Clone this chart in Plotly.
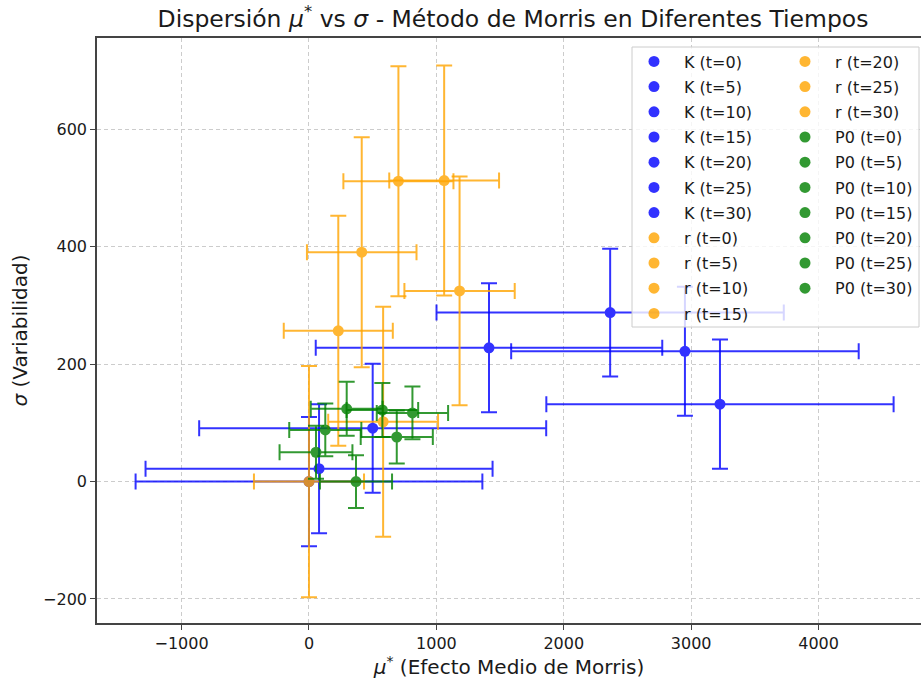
import plotly.graph_objects as go

times = [0, 5, 10, 15, 20, 25, 30]

K_mu = [0, 79, 500, 1413, 2364, 2951, 3226]
K_sigma = [0, 22, 91, 228, 288, 222, 132]
K_mu_err = [1361, 1362, 1362, 1360, 1363, 1364, 1363]
K_sigma_err = [110, 110, 110, 110, 109, 110, 110]

r_mu = [0, 582, 230, 414, 702, 1061, 1182]
r_sigma = [0, 102, 257, 391, 512, 513, 325]
r_mu_err = [432, 431, 428, 430, 432, 431, 433]
r_sigma_err = [197, 196, 196, 196, 196, 196, 195]

P0_mu = [369, 55, 128, 296, 576, 689, 812]
P0_sigma = [0, 50, 88, 124, 122, 76, 117]
P0_mu_err = [283, 286, 283, 282, 281, 283, 280]
P0_sigma_err = [45, 45, 45, 46, 46, 45, 45]

params = [
    ("K", "#0000FF", K_mu, K_sigma, K_mu_err, K_sigma_err),
    ("r", "#FFA500", r_mu, r_sigma, r_mu_err, r_sigma_err),
    ("P0", "#008000", P0_mu, P0_sigma, P0_mu_err, P0_sigma_err),
]

FONT = "DejaVu Sans"
fig = go.Figure()
count = 0
for name, color, mu, sig, mue, sige in params:
    for i, t in enumerate(times):
        leg = "legend" if count < 11 else "legend2"
        fig.add_trace(go.Scatter(
            x=[mu[i]], y=[sig[i]], mode="markers",
            name=f"{name} (t={t})",
            legendgroup=f"{name}{t}",
            legend=leg,
            opacity=0.8,
            marker=dict(color=color, size=11),
            error_x=dict(type="data", array=[mue[i]], color=color, thickness=2, width=8),
            error_y=dict(type="data", array=[sige[i]], color=color, thickness=2, width=8),
        ))
        count += 1

L, R, T, B = 97, 0, 38, 60
W, H = 921, 683
pw, ph = W - L - R, H - T - B

def px_x(p):
    return (p - L) / pw

def px_y(p):
    return (H - B - p) / ph

legend_common = dict(
    bgcolor="rgba(0,0,0,0)", borderwidth=0,
    font=dict(family=FONT, size=16, color="#1a1a1a"),
    itemwidth=50, tracegroupgap=1.4, traceorder="grouped",
    xanchor="left", yanchor="top", yref="paper", xref="paper",
)

fig.update_layout(
    width=W, height=H,
    margin=dict(l=L, r=R, t=T, b=B),
    paper_bgcolor="white", plot_bgcolor="white",
    font=dict(family=FONT, color="#1a1a1a"),
    title=dict(
        text="Dispersión <i>μ</i><sup>*</sup> vs <i>σ</i> - Método de Morris en Diferentes Tiempos",
        x=513 / W, xref="container", xanchor="center",
        y=1 - 19 / H, yref="container", yanchor="middle",
        font=dict(family=FONT, size=23.5, color="#1a1a1a"),
    ),
    legend=dict(x=px_x(624), y=px_y(44.5), **legend_common),
    legend2=dict(x=px_x(775), y=px_y(44.5), **legend_common),
    shapes=[dict(
        type="rect", xref="paper", yref="paper",
        x0=px_x(632), x1=px_x(919), y0=px_y(327), y1=px_y(47),
        fillcolor="rgba(255,255,255,0.8)", line=dict(color="#cccccc", width=1),
        layer="above",
    )],
)

fig.update_xaxes(
    range=[-1664, 4804], dtick=1000, tick0=0,
    showgrid=True, gridcolor="#cccccc", griddash="4px,3px", gridwidth=1,
    zeroline=False, showline=True, linecolor="#444444", linewidth=1.5, mirror=True,
    ticks="outside", ticklen=5, tickcolor="#444444",
    tickfont=dict(family=FONT, size=16, color="#1a1a1a"),
    title=dict(text="<i>μ</i><sup>*</sup> (Efecto Medio de Morris)",
               font=dict(family=FONT, size=20, color="#1a1a1a"), standoff=4),
)
fig.update_yaxes(
    range=[-241, 756], dtick=200, tick0=0,
    showgrid=True, gridcolor="#cccccc", griddash="4px,3px", gridwidth=1,
    zeroline=False, showline=True, linecolor="#444444", linewidth=1.5, mirror=False,
    ticks="outside", ticklen=5, tickcolor="#444444",
    tickfont=dict(family=FONT, size=16, color="#1a1a1a"),
    title=dict(text="<i>σ</i> (Variabilidad)",
               font=dict(family=FONT, size=20, color="#1a1a1a"), standoff=10),
)

fig.write_html("out.html")
